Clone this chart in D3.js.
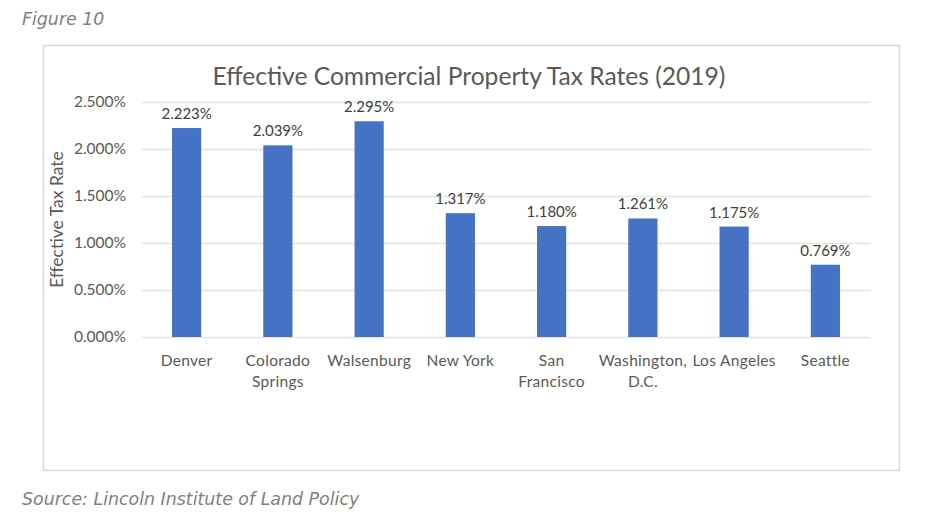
<!DOCTYPE html>
<html lang="en">
<head>
    <meta charset="UTF-8">
    <title>Effective Commercial Property Tax Rates (2019)</title>
    <script src="https://d3js.org/d3.v7.min.js"></script>
    <style>
        body {
            margin: 0;
            background: #fff;
        }
        .note {
            font-family: "DejaVu Sans", Verdana, sans-serif;
            font-style: italic;
            font-size: 17.4px;
            fill: #7f7f7f;
        }
        .lbl {
            font-family: Lato, "Noto Sans", sans-serif;
            fill: #595959;
        }
    </style>
</head>
<body>
    <div id="chart"></div>

    <script>
        // Data
        const cities = ["Denver", "Colorado Springs", "Walsenburg", "New York",
                        "San Francisco", "Washington, D.C.", "Los Angeles", "Seattle"];
        // category labels as they wrap in the original
        const cityLines = [["Denver"], ["Colorado", "Springs"], ["Walsenburg"], ["New York"],
                           ["San", "Francisco"], ["Washington,", "D.C."], ["Los Angeles"], ["Seattle"]];
        const rates = [2.223, 2.039, 2.295, 1.317, 1.180, 1.261, 1.175, 0.769];
        const yTicks = [0, 0.5, 1.0, 1.5, 2.0, 2.5];

        const W = 932, H = 522;
        const plot = {left: 141, right: 871, top: 102, bottom: 337};

        const svg = d3.select("#chart")
            .append("svg")
              .attr("width", W)
              .attr("height", H);

        svg.append("text")
            .attr("class", "note")
            .attr("x", 22)
            .attr("y", 25)
            .text("Figure 10");

        svg.append("text")
            .attr("class", "note")
            .attr("x", 22)
            .attr("y", 505)
            .text("Source: Lincoln Institute of Land Policy");

        // chart area frame
        svg.append("rect")
            .attr("x", 43.5)
            .attr("y", 45.5)
            .attr("width", 856)
            .attr("height", 425)
            .attr("fill", "#fff")
            .attr("stroke", "#d9d9d9")
            .attr("stroke-width", 1.5);

        svg.append("text")
            .attr("class", "lbl")
            .attr("x", 469)
            .attr("y", 85)
            .attr("text-anchor", "middle")
            .style("font-size", "24.6px")
            .text("Effective Commercial Property Tax Rates (2019)");

        const x = d3.scaleBand()
            .domain(cities)
            .range([plot.left, plot.right])
            .paddingInner(0.68)
            .paddingOuter(0.34);

        const y = d3.scaleLinear()
            .domain([0, 2.5])
            .range([plot.bottom, plot.top]);

        // gridlines + y labels
        const yAxis = svg.append("g")
            .attr("transform", `translate(${plot.left},0)`)
            .call(d3.axisLeft(y)
                .tickValues(yTicks)
                .tickSize(-(plot.right - plot.left))
                .tickPadding(15)
                .tickFormat(d => d3.format(".3f")(d) + "%"));
        yAxis.select(".domain").remove();
        yAxis.selectAll(".tick line")
            .attr("stroke", "#e3e3e3")
            .attr("stroke-width", 1.5);
        yAxis.selectAll(".tick text")
            .attr("class", "lbl")
            .style("font-size", "15.5px");

        svg.append("text")
            .attr("class", "lbl")
            .attr("transform", `translate(63,${(plot.top + plot.bottom) / 2}) rotate(-90)`)
            .attr("text-anchor", "middle")
            .style("font-size", "17.5px")
            .text("Effective Tax Rate");

        // bars
        svg.selectAll("rect.bar")
            .data(rates)
            .join("rect")
              .attr("class", "bar")
              .attr("x", (d, i) => x(cities[i]))
              .attr("y", d => y(d))
              .attr("width", x.bandwidth())
              .attr("height", d => y(0) - y(d))
              .attr("fill", "#4472c4");

        // value labels
        svg.selectAll("text.val")
            .data(rates)
            .join("text")
              .attr("class", "lbl val")
              .attr("x", (d, i) => x(cities[i]) + x.bandwidth() / 2)
              .attr("y", d => y(d) - 9)
              .attr("text-anchor", "middle")
              .style("font-size", "15px")
              .style("fill", "#404040")
              .text(d => d3.format(".3f")(d) + "%");

        // category labels
        const cat = svg.selectAll("text.cat")
            .data(cityLines)
            .join("text")
              .attr("class", "lbl cat")
              .attr("x", (d, i) => x(cities[i]) + x.bandwidth() / 2)
              .attr("y", 366)
              .attr("text-anchor", "middle")
              .style("font-size", "15.5px")
              .style("letter-spacing", "0.3px");
        cat.selectAll("tspan")
            .data(d => d)
            .join("tspan")
              .attr("x", function () { return this.parentNode.getAttribute("x"); })
              .attr("dy", (d, i) => i ? 21 : 0)
              .text(d => d);
    </script>
</body>
</html>
